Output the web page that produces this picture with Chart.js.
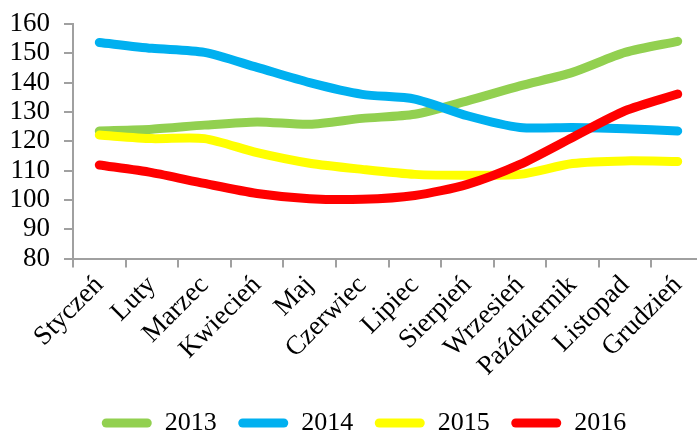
<!DOCTYPE html>
<html>
<head>
<meta charset="utf-8">
<script src="https://cdn.jsdelivr.net/npm/chart.js@4/dist/chart.umd.min.js"></script>
<style>
html,body{margin:0;padding:0;background:#fff;overflow:hidden;width:697px;height:435px;}
#wrap{position:absolute;left:0;top:0;width:732px;height:446px;}
</style>
</head>
<body>
<div id="wrap"><canvas id="c" width="732" height="446"></canvas></div>
<script>
const months = ['Styczeń','Luty','Marzec','Kwiecień','Maj','Czerwiec','Lipiec','Sierpień','Wrzesień','Październik','Listopad','Grudzień'];
const y2013 = [123.5,124.1,125.5,126.6,125.8,127.8,129.2,133.8,138.9,143.5,150.3,154.1];
const y2014 = [153.7,151.7,150.3,145.2,140.0,136.0,134.4,128.7,124.7,124.7,124.3,123.5];
const y2015 = [122.1,120.9,120.9,116.1,112.5,110.4,108.7,108.4,108.7,112.4,113.3,113.1];
const y2016 = [111.9,109.3,105.6,102.2,100.4,100.2,101.5,105.3,112.1,121.3,130.4,136.1];
const seriesNames = ['2013','2014','2015','2016'];
const seriesColors = ['#92D050','#00B0F0','#FFFF00','#FF0000'];
const seriesData = [y2013,y2014,y2015,y2016];
const yMin = 80, yMax = 160, yStep = 10;

const FONT = 'Liberation Serif';
const AXIS = '#A0A0A0';

const datasets = seriesNames.map((n,i)=>({
  label:n,
  data:seriesData[i],
  borderColor:seriesColors[i],
  backgroundColor:seriesColors[i],
  borderWidth:9,
  pointRadius:0,
  tension:0.25,
  borderCapStyle:'round',
  borderJoinStyle:'round',
  fill:false,
  order:4-i
}));

const legendShift = {
  id:'legendShift',
  afterLayout(chart){
    if(chart.legend){ chart.legend.left += 12; chart.legend.right += 12; }
  }
};

new Chart(document.getElementById('c'),{
  type:'line',
  data:{labels:months,datasets},
  plugins:[legendShift],
  options:{
    responsive:false,
    animation:false,
    layout:{padding:{left:0,right:28,top:24,bottom:0}},
    plugins:{
      tooltip:{enabled:false},
      legend:{
        position:'bottom',
        labels:{
          font:{family:FONT,size:26},
          color:'#000',
          boxWidth:50,
          boxHeight:9,
          useBorderRadius:true,
          borderRadius:4.5,
          padding:21.5,
          sort:(a,b)=>a.datasetIndex-b.datasetIndex,
          generateLabels:(chart)=>{
            const items = Chart.defaults.plugins.legend.labels.generateLabels(chart);
            items.forEach(it=>{it.lineWidth=0;it.fillStyle=seriesColors[it.datasetIndex];});
            return items;
          }
        }
      }
    },
    scales:{
      x:{
        offset:true,
        afterFit:(s)=>{s.height=130;s.paddingLeft=0;s.paddingRight=0;},
        grid:{offset:true,drawOnChartArea:false,drawTicks:true,tickLength:9,color:AXIS,lineWidth:2},
        border:{color:AXIS,width:2},
        ticks:{font:{family:FONT,size:27},color:'#000',maxRotation:45,minRotation:45,autoSkip:false,padding:2}
      },
      y:{
        min:yMin,max:yMax,
        afterFit:(s)=>{s.width=73;s.paddingTop=0;s.paddingBottom=0;},
        grid:{drawOnChartArea:false,drawTicks:true,tickLength:9,color:AXIS,lineWidth:2},
        border:{color:AXIS,width:2},
        ticks:{stepSize:yStep,autoSkip:false,font:{family:FONT,size:27},color:'#000',padding:14}
      }
    }
  }
});
</script>
</body>
</html>
